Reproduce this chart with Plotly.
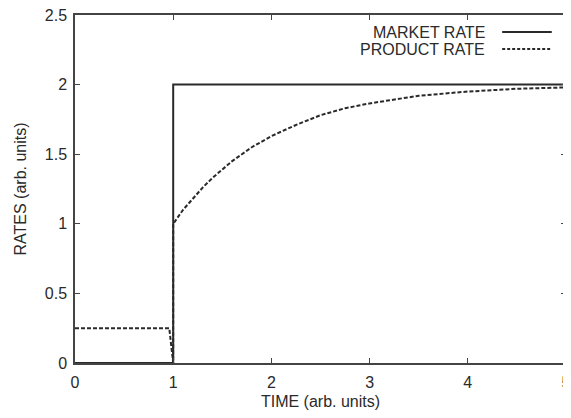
import plotly.graph_objects as go

# Data
market_t = [0, 1, 1, 5]
market_rate = [0, 0, 2, 2]

product_t = [0, 0.96, 1.0, 1.0, 1.1, 1.2, 1.3, 1.4, 1.5, 1.6, 1.8, 2.0, 2.25, 2.5,
             2.75, 3.0, 3.5, 4.0, 4.5, 5.0]
product_rate = [0.25, 0.25, 0.0, 1.0, 1.10, 1.18, 1.26, 1.33, 1.39, 1.45, 1.55, 1.63,
                1.71, 1.78, 1.83, 1.865, 1.92, 1.95, 1.97, 1.98]

legend_labels = ["MARKET RATE", "PRODUCT RATE"]
x_ticks = [0, 1, 2, 3, 4, 5]
y_ticks = [0, 0.5, 1, 1.5, 2, 2.5]
y_tick_text = ["0", "0.5", "1", "1.5", "2", "2.5"]

ink = "#2a2a2a"
font = dict(family="Liberation Sans, Arial, sans-serif", size=16, color=ink)

fig = go.Figure()
fig.add_trace(go.Scatter(x=market_t, y=market_rate, mode="lines", name=legend_labels[0],
                         line=dict(color=ink, width=2), showlegend=False))
fig.add_trace(go.Scatter(x=product_t, y=product_rate, mode="lines", name=legend_labels[1],
                         line=dict(color=ink, width=2, dash="4px,2px"), showlegend=False))

# gnuplot-style legend: text right-aligned, sample line to its right
leg_y = [0.951, 0.902]
dashes = ["solid", "3px,2px"]
for lab, yy, d in zip(legend_labels, leg_y, dashes):
    fig.add_annotation(xref="paper", yref="paper", x=0.839, y=yy, text=lab,
                       showarrow=False, xanchor="right", yanchor="middle", align="right",
                       font=dict(family=font["family"], size=16, color=ink))
    fig.add_shape(type="line", xref="paper", yref="paper", x0=0.870, x1=0.971,
                  y0=yy, y1=yy, line=dict(color=ink, width=2, dash=d))

axis_common = dict(showline=True, linecolor="#444", linewidth=1.5, mirror="ticks",
                   ticks="inside", ticklen=5, tickcolor="#444", tickwidth=1,
                   showgrid=False, zeroline=False, tickfont=font,
                   ticklabeloverflow="allow", automargin=False)

fig.update_xaxes(range=[0, 5], tickvals=x_ticks, ticklabelstandoff=4,
                 title=dict(text="TIME (arb. units)", font=font, standoff=6),
                 **axis_common)
fig.update_yaxes(range=[0, 2.5], tickvals=y_ticks, ticktext=y_tick_text,
                 ticklabelstandoff=3,
                 title=dict(text="RATES (arb. units)", font=font, standoff=14),
                 **axis_common)

fig.update_layout(width=563, height=410, margin=dict(l=67, r=5, t=7, b=55),
                  paper_bgcolor="white", plot_bgcolor="white", font=font)

fig.write_html("out.html")
